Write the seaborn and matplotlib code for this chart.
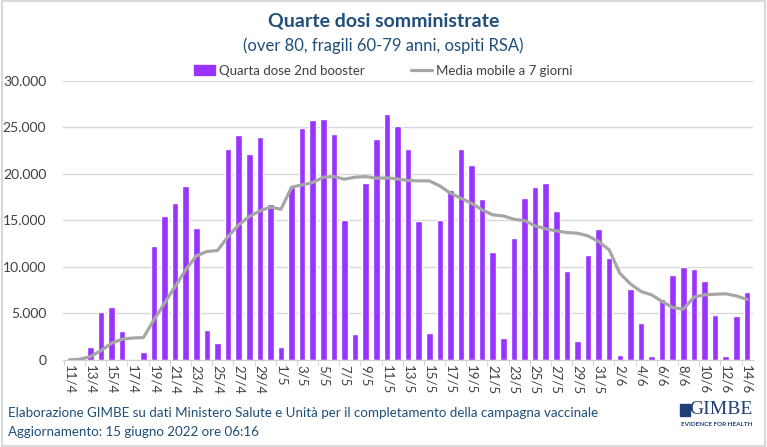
import matplotlib.pyplot as plt
import matplotlib.patches as mpatches
import matplotlib.lines as mlines
import numpy as np
import pandas as pd
import seaborn as sns

# giorni dall'11/4 al 14/6
giorni = ([f'{d}/4' for d in range(11, 31)] + [f'{d}/5' for d in range(1, 32)]
          + [f'{d}/6' for d in range(1, 15)])

# quarta dose (2nd booster), valori giornalieri
quarta_dose = [
    100, 320, 1430, 5160, 5730, 3150, 0, 830, 12260, 15480,
    16920, 18670, 14160, 3190, 1790, 22730, 24130, 22190, 23950, 16810,
    1330, 18600, 24980, 25840, 25950, 24270, 15050, 2800, 19000, 23760,
    26420, 25200, 22690, 14910, 2940, 15090, 18280, 22650, 20970, 17350,
    11610, 2330, 13120, 17420, 18570, 19030, 16020, 9600, 2000, 11250,
    14090, 10970, 570, 7600, 3940, 430, 6560, 9100, 9960, 9780,
    8530, 4800, 390, 4700, 7310,
]

# media mobile a 7 giorni
media_mobile = [
    0, 60, 350, 1000, 1790, 2220, 2350, 2390, 4300, 6100,
    7890, 9680, 11180, 11650, 11760, 13260, 14520, 15410, 16020, 16420,
    16200, 18570, 18820, 19070, 19640, 19710, 19430, 19640, 19710, 19530,
    19570, 19460, 19290, 19250, 19250, 18710, 17920, 17380, 16840, 16130,
    15590, 15480, 15120, 14980, 14410, 14090, 13870, 13690, 13620, 13330,
    12720, 11830, 9320, 8170, 7350, 6990, 6270, 5630, 5450, 6740,
    6990, 7060, 7100, 6880, 6500,
]

df = pd.DataFrame({'giorno': giorni, 'dosi': quarta_dose, 'media': media_mobile})

viola = '#9933FF'
grigio = '#A6A6A6'
blu = '#1F4E79'
testo = '#404040'
logo = '#1F3F77'

sns.set_style('white')
plt.rcParams['font.family'] = ['Lato', 'DejaVu Sans']

fig = plt.figure(figsize=(7.67, 4.47), dpi=100)
ax = fig.add_axes([0.082, 0.195, 0.900, 0.624])

sns.barplot(data=df, x='giorno', y='dosi', color=viola, saturation=1,
            width=0.62, ax=ax, zorder=2)
sns.pointplot(data=df, x='giorno', y='media', color=grigio, markers='',
              linewidth=2.3, ax=ax, zorder=3)

ax.set_ylim(0, 30000)
ax.set_yticks(np.arange(0, 30001, 5000))
ax.set_yticklabels([f'{int(v):,}'.replace(',', '.') for v in np.arange(0, 30001, 5000)],
                   fontsize=10, color=testo)
ax.set_xlim(-0.6, len(giorni) - 0.4)
ax.set_xticks(range(0, len(giorni), 2))
ax.set_xticklabels(giorni[::2], rotation=-90, fontsize=9.5, color=testo)
ax.set_xticks(np.arange(-0.5, len(giorni), 2), minor=True)
ax.tick_params(axis='x', which='major', length=0, pad=4)
ax.tick_params(axis='x', which='minor', length=4, color='#D0D0D0', bottom=True)
ax.tick_params(axis='y', length=0, pad=12)
ax.set_xlabel('')
ax.set_ylabel('')
ax.yaxis.grid(True, color='#D9D9D9', linewidth=1)
ax.set_axisbelow(True)
for s in ['top', 'right', 'left']:
    ax.spines[s].set_visible(False)
ax.spines['bottom'].set_color('#D0D0D0')

fig.text(0.5, 0.952, 'Quarte dosi somministrate', ha='center', va='center',
         fontsize=14, fontweight='bold', color=blu)
fig.text(0.5, 0.898, '(over 80, fragili 60-79 anni, ospiti RSA)', ha='center',
         va='center', fontsize=12, color=blu)

handles = [mpatches.Patch(color=viola, label='Quarta dose 2nd booster'),
           mlines.Line2D([], [], color=grigio, linewidth=2.3, label='Media mobile a 7 giorni')]
fig.legend(handles=handles, loc='center', bbox_to_anchor=(0.5, 0.842), ncol=2,
           frameon=False, fontsize=9.5, handlelength=1.6, handletextpad=0.3,
           columnspacing=3.5, labelcolor=testo)

fig.text(0.011, 0.077, 'Elaborazione GIMBE su dati Ministero Salute e Unità per il completamento della campagna vaccinale',
         ha='left', va='center', fontsize=9.6, color=blu)
fig.text(0.011, 0.033, 'Aggiornamento: 15 giugno 2022 ore 06:16',
         ha='left', va='center', fontsize=9.6, color=blu)

# logo GIMBE
fig.text(0.981, 0.083, 'GIMBE', ha='right', va='center', fontsize=14,
         family='Liberation Serif', color=logo)
fig.text(0.981, 0.050, 'EVIDENCE FOR HEALTH', ha='right', va='center',
         fontsize=4.6, fontweight='bold', color=logo)
fig.patches.append(mpatches.Rectangle((0.886, 0.070), 0.013, 0.027,
                                      transform=fig.transFigure, color=logo))

# cornice
fig.patches.append(mpatches.Rectangle((0.002, 0.003), 0.996, 0.994, transform=fig.transFigure,
                                      fill=False, edgecolor='#D9D9D9', linewidth=1.5))

fig.savefig('out.png', dpi=100)
